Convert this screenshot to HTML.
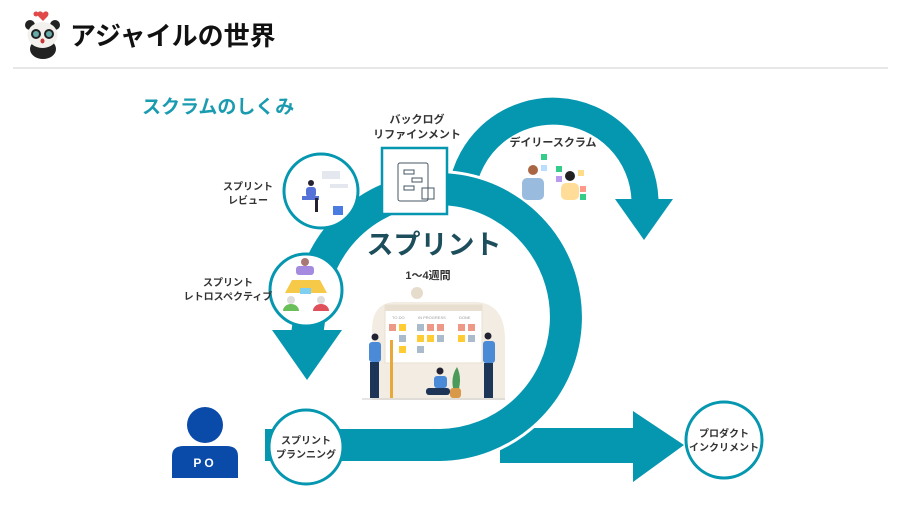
<!DOCTYPE html>
<html><head><meta charset="utf-8"><style>
body{margin:0;background:#fff;width:900px;height:506px;overflow:hidden;font-family:"Liberation Sans","Noto Sans CJK JP",sans-serif;}
svg text{font-family:"Liberation Sans","Noto Sans CJK JP",sans-serif;}
</style></head><body>
<svg width="900" height="506" viewBox="0 0 900 506" xmlns="http://www.w3.org/2000/svg">
<g>
 <path d="M43 13 c-3-4-8 0-4 4 l4 4 4-4 c4-4-1-8-4-4z" fill="#e0484a"/>
 <circle cx="36" cy="14" r="2.5" fill="#e0484a"/>
 <ellipse cx="43" cy="49" rx="13" ry="10" fill="#222"/>
 <circle cx="30" cy="25" r="5" fill="#222"/><circle cx="55" cy="25" r="5" fill="#222"/>
 <ellipse cx="42.5" cy="35" rx="15" ry="13" fill="#f3f1ee"/>
 <ellipse cx="36" cy="34" rx="5" ry="5" fill="#222"/><ellipse cx="49" cy="34" rx="5" ry="5" fill="#222"/>
 <circle cx="36" cy="34" r="3" fill="#6aa"/><circle cx="49" cy="34" r="3" fill="#6aa"/>
 <ellipse cx="42.5" cy="41" rx="2" ry="2.5" fill="#c33"/>
</g>
<text x="70" y="45" font-size="26" font-weight="bold" fill="#111">アジャイルの世界</text>
<line x1="13" y1="68" x2="888" y2="68" stroke="#cfcfcf" stroke-width="1"/>
<text x="142" y="113" font-size="19" font-weight="bold" fill="#1a9bb0">スクラムのしくみ</text>

<polygon points="500,428 633,428 633,411 684,445 633,482 633,463 500,463" fill="#0596b0"/>
<path d="M462 190 A92 92 0 0 1 645 200" fill="none" stroke="#0596b0" stroke-width="27"/>
<polygon points="615,199 673,199 644,240" fill="#0596b0"/>
<path d="M265 445 L440 445 A128 128 0 1 0 314 285 L307 335" fill="none" stroke="#fff" stroke-width="38" stroke-linejoin="round"/>
<path d="M265 445 L440 445 A128 128 0 1 0 314 285 L307 335" fill="none" stroke="#0596b0" stroke-width="32" stroke-linejoin="round"/>
<polygon points="272,330 342,330 307,380" fill="#0596b0"/>

<rect x="382" y="148" width="65" height="66" fill="#fff" stroke="#0596b0" stroke-width="2.5"/>
<g fill="none" stroke="#456" stroke-width="1">
 <rect x="398" y="163" width="30" height="38" rx="2"/>
 <rect x="404" y="170" width="10" height="4"/><rect x="412" y="178" width="10" height="4"/><rect x="404" y="186" width="10" height="4"/>
 <rect x="422" y="188" width="12" height="11"/>
</g>
<text x="417" y="123" font-size="11" font-weight="bold" fill="#333" text-anchor="middle">バックログ</text>
<text x="417" y="138" font-size="11" font-weight="bold" fill="#333" text-anchor="middle">リファインメント</text>

<text x="553" y="146" font-size="11" font-weight="bold" fill="#333" text-anchor="middle">デイリースクラム</text>
<g>
 <rect x="541" y="154" width="6" height="6" fill="#3c8"/><rect x="556" y="166" width="6" height="6" fill="#3c8"/>
 <rect x="556" y="176" width="6" height="6" fill="#b9e"/><rect x="578" y="170" width="6" height="6" fill="#fd8"/>
 <rect x="580" y="186" width="6" height="6" fill="#f98"/><rect x="580" y="194" width="6" height="6" fill="#3c8"/>
 <rect x="541" y="165" width="6" height="6" fill="#bdf"/>
 <circle cx="533" cy="170" r="5" fill="#a64"/><rect x="522" y="178" width="22" height="22" rx="5" fill="#9bd"/>
 <circle cx="570" cy="176" r="5" fill="#222"/><rect x="561" y="183" width="18" height="17" rx="5" fill="#fd9"/>
</g>

<text x="434" y="254" font-size="27" font-weight="bold" fill="#1d4e5c" text-anchor="middle">スプリント</text>
<text x="428" y="279" font-size="11" font-weight="bold" fill="#333" text-anchor="middle">1〜4週間</text>
<g>
 <path d="M372 400 L372 330 Q372 300 400 302 L470 302 Q505 300 505 340 L505 400 Z" fill="#f3ece2"/>
 <circle cx="417" cy="293" r="6" fill="#e6dccc"/>
 <rect x="385" y="305" width="97" height="58" fill="#fff" stroke="#e8dfd0"/>
 <rect x="385" y="305" width="97" height="6" fill="#e8dfd0"/>
 <text x="392" y="319" font-size="4" fill="#999">TO DO</text><text x="418" y="319" font-size="4" fill="#999">IN PROGRESS</text><text x="459" y="319" font-size="4" fill="#999">DONE</text>
 <g>
 <rect x="389" y="324" width="7" height="7" fill="#e98"/><rect x="399" y="324" width="7" height="7" fill="#fc3"/>
 <rect x="399" y="335" width="7" height="7" fill="#abc"/><rect x="399" y="346" width="7" height="7" fill="#fc3"/>
 <rect x="417" y="324" width="7" height="7" fill="#abc"/><rect x="427" y="324" width="7" height="7" fill="#e98"/><rect x="437" y="324" width="7" height="7" fill="#e98"/>
 <rect x="417" y="335" width="7" height="7" fill="#fc3"/><rect x="427" y="335" width="7" height="7" fill="#fc3"/><rect x="437" y="335" width="7" height="7" fill="#abc"/>
 <rect x="417" y="346" width="7" height="7" fill="#abc"/>
 <rect x="458" y="324" width="7" height="7" fill="#e98"/><rect x="468" y="324" width="7" height="7" fill="#e98"/>
 <rect x="458" y="335" width="7" height="7" fill="#fc3"/><rect x="468" y="335" width="7" height="7" fill="#abc"/>
 </g>
 <rect x="390" y="340" width="3" height="58" fill="#e9a83a"/>
 <circle cx="375" cy="337" r="3.5" fill="#223"/><rect x="369" y="342" width="12" height="20" rx="3" fill="#4a8ad6"/><rect x="370" y="362" width="9" height="36" fill="#1d3557"/>
 <circle cx="488" cy="336" r="3.5" fill="#223"/><rect x="483" y="341" width="12" height="22" rx="3" fill="#4a8ad6"/><rect x="484" y="363" width="9" height="35" fill="#1d3557"/>
 <circle cx="440" cy="371" r="3.5" fill="#223"/><rect x="434" y="376" width="13" height="12" rx="3" fill="#4a8ad6"/><rect x="426" y="388" width="24" height="7" rx="3" fill="#1d3557"/>
 <path d="M455 395 q-6-16 2-28 q6 12 0 28z" fill="#4a9a5a"/><rect x="450" y="388" width="11" height="10" rx="3" fill="#d89a4a"/>
 <line x1="362" y1="399" x2="505" y2="399" stroke="#ccc"/>
</g>

<circle cx="321" cy="191" r="37" fill="#fff" stroke="#0596b0" stroke-width="3"/>
<g>
 <rect x="322" y="171" width="18" height="8" fill="#e5e7ee"/><rect x="330" y="184" width="18" height="4" fill="#e5e7ee"/>
 <circle cx="311" cy="183" r="3" fill="#223"/><rect x="306" y="187" width="10" height="10" rx="3" fill="#5572d8"/>
 <rect x="302" y="196" width="17" height="4" fill="#5572d8"/><rect x="315" y="198" width="3" height="14" fill="#223"/>
 <rect x="333" y="206" width="10" height="9" fill="#4a7be0"/>
</g>
<text x="248" y="190" font-size="10" font-weight="bold" fill="#333" text-anchor="middle">スプリント</text>
<text x="248" y="204" font-size="10" font-weight="bold" fill="#333" text-anchor="middle">レビュー</text>

<circle cx="306" cy="290" r="36" fill="#fff" stroke="#0596b0" stroke-width="3"/>
<g>
 <circle cx="305" cy="262" r="4" fill="#a77"/><rect x="296" y="266" width="18" height="9" rx="3" fill="#a58be0"/>
 <polygon points="285,293 327,293 320,280 292,280" fill="#f7c948"/>
 <rect x="300" y="288" width="11" height="6" fill="#7fd0f0"/>
 <circle cx="291" cy="300" r="4" fill="#ddd"/><path d="M283 311 a8 7 0 0 1 16 0z" fill="#6abf5a"/>
 <circle cx="321" cy="300" r="4" fill="#ddd"/><path d="M313 311 a8 7 0 0 1 16 0z" fill="#e0505a"/>
</g>
<text x="228" y="286" font-size="10" font-weight="bold" fill="#333" text-anchor="middle">スプリント</text>
<text x="228" y="300" font-size="10" font-weight="bold" fill="#333" text-anchor="middle">レトロスペクティブ</text>

<circle cx="306" cy="447" r="37" fill="#fff" stroke="#0596b0" stroke-width="3"/>
<text x="306" y="444" font-size="10" font-weight="bold" fill="#333" text-anchor="middle">スプリント</text>
<text x="306" y="458" font-size="10" font-weight="bold" fill="#333" text-anchor="middle">プランニング</text>

<circle cx="724" cy="440" r="38" fill="#fff" stroke="#0596b0" stroke-width="3"/>
<text x="724" y="437" font-size="10" font-weight="bold" fill="#333" text-anchor="middle">プロダクト</text>
<text x="724" y="451" font-size="10" font-weight="bold" fill="#333" text-anchor="middle">インクリメント</text>

<circle cx="205" cy="425" r="18" fill="#0a4aa8"/>
<path d="M172 478 L172 456 Q172 446 184 446 L226 446 Q238 446 238 456 L238 478 Z" fill="#0a4aa8"/>
<text x="205" y="467" font-size="12" font-weight="bold" fill="#fff" text-anchor="middle" letter-spacing="3">PO</text>
</svg>
</body></html>
